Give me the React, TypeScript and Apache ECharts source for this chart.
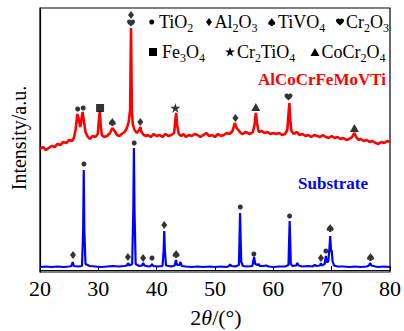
import React, { useEffect, useRef } from "react";
import * as echarts from "echarts";

// ---------- data (2θ in degrees, intensity in arbitrary units) ----------
const xTicks = [20, 30, 40, 50, 60, 70, 80];

const coatingPattern: [number, number][] = [
  [20.0, 121], [20.5, 123], [21.0, 120], [21.5, 122], [22.0, 124], [22.5, 123], [23.0, 126], [23.5, 125],
  [24.0, 128], [24.5, 127], [25.0, 130], [25.5, 129], [25.8, 132], [26.1, 140], [26.4, 156], [26.6, 152],
  [26.9, 143], [27.1, 150], [27.3, 158], [27.5, 150], [27.8, 138], [28.2, 133], [28.6, 131], [29.0, 134],
  [29.5, 133], [29.9, 136], [30.1, 150], [30.25, 159], [30.4, 145], [30.6, 135], [31.0, 133], [31.5, 134],
  [32.0, 137], [32.4, 142], [32.8, 139], [33.2, 135], [33.6, 134], [34.0, 136], [34.5, 138], [34.9, 142],
  [35.2, 148], [35.45, 160], [35.6, 242], [35.75, 160], [35.9, 146], [36.2, 140], [36.6, 137], [37.0, 140],
  [37.2, 143], [37.4, 138], [37.8, 135], [38.2, 134], [38.5, 135], [39.0, 133], [39.5, 136], [40.0, 134],
  [40.5, 135], [41.0, 133], [41.5, 136], [42.0, 134], [42.5, 135], [43.0, 137], [43.2, 150], [43.35, 157],
  [43.5, 145], [43.8, 136], [44.2, 134], [44.6, 136], [45.0, 133], [45.5, 135], [46.0, 134], [46.5, 136],
  [47.0, 135], [47.5, 133], [48.0, 135], [48.5, 137], [49.0, 134], [49.5, 135], [50.0, 133], [50.5, 136],
  [51.0, 134], [51.5, 135], [52.0, 137], [52.5, 136], [53.0, 139], [53.4, 147], [53.7, 142], [54.0, 140],
  [54.4, 137], [54.8, 136], [55.2, 138], [55.6, 137], [56.0, 136], [56.5, 138], [56.8, 146], [57.0, 157],
  [57.2, 147], [57.5, 138], [58.0, 139], [58.5, 137], [59.0, 138], [59.5, 136], [60.0, 137], [60.5, 136],
  [61.0, 137], [61.5, 135], [62.0, 136], [62.4, 140], [62.6, 156], [62.75, 167], [62.9, 150], [63.1, 139],
  [63.5, 136], [64.0, 138], [64.5, 135], [65.0, 136], [65.5, 134], [66.0, 135], [66.5, 133], [67.0, 135],
  [67.5, 134], [68.0, 133], [68.5, 135], [69.0, 133], [69.5, 132], [70.0, 134], [70.5, 132], [71.0, 133],
  [71.5, 131], [72.0, 132], [72.5, 130], [73.0, 131], [73.5, 133], [73.9, 137], [74.2, 133], [74.6, 130],
  [75.0, 131], [75.5, 129], [76.0, 130], [76.5, 128], [77.0, 129], [77.5, 127], [78.0, 126], [78.5, 128],
  [79.0, 127], [79.5, 129], [80.0, 128],
];

const substratePattern: [number, number][] = [
  [20.0, 3], [21.0, 3.5], [22.0, 3], [23.0, 3.5], [24.0, 3], [25.0, 3.5], [25.4, 4], [25.6, 8], [25.8, 4],
  [26.5, 3.5], [27.2, 4], [27.4, 40], [27.5, 100], [27.6, 40], [27.8, 6], [28.5, 4], [29.5, 3.5], [30.5, 3],
  [31.5, 3.5], [32.5, 4], [33.5, 3.5], [34.5, 4], [34.9, 4.5], [35.1, 7], [35.3, 4.5], [35.8, 6], [36.0, 60],
  [36.1, 122], [36.2, 60], [36.4, 6], [37.0, 4], [37.5, 4.5], [37.7, 7], [37.9, 4.5], [38.6, 3.5], [39.0, 4],
  [39.2, 6], [39.4, 4], [40.2, 3.5], [41.0, 4], [41.2, 20], [41.3, 39], [41.4, 20], [41.6, 4.5], [42.5, 3.5],
  [43.1, 4.5], [43.3, 10], [43.5, 5], [43.9, 5], [44.1, 8], [44.3, 4], [45.0, 3.5], [46.0, 3], [47.0, 3.5],
  [48.0, 3], [49.0, 3.5], [50.0, 3], [51.0, 3.5], [52.0, 3], [52.4, 4], [52.6, 5.5], [52.8, 4], [53.5, 3.5],
  [54.1, 5], [54.2, 30], [54.3, 57], [54.4, 30], [54.5, 8], [54.8, 4], [55.5, 3.5], [56.4, 4], [56.6, 10],
  [56.7, 13], [56.9, 6], [57.3, 5], [57.45, 6], [57.7, 4], [58.3, 4], [58.8, 4.5], [59.2, 3.5], [60.0, 3],
  [61.0, 3.5], [62.0, 3.5], [62.6, 5], [62.7, 28], [62.8, 49], [62.9, 28], [63.0, 6], [63.3, 4], [63.9, 4.5],
  [64.1, 7], [64.3, 4.5], [65.0, 3.5], [66.0, 4], [66.7, 3.5], [67.1, 5], [67.4, 4], [68.0, 4.5], [68.15, 7],
  [68.3, 4.5], [68.8, 6], [69.0, 14], [69.15, 8], [69.4, 8], [69.6, 20], [69.75, 34], [69.9, 18], [70.0, 20],
  [70.15, 9], [70.4, 4.5], [71.0, 3.5], [72.0, 3.5], [73.0, 3], [74.0, 3.5], [75.0, 3], [76.0, 3.5],
  [76.4, 4.5], [76.6, 7], [76.8, 4.5], [77.5, 3.5], [78.0, 3], [79.0, 3.5], [80.0, 3],
];

// phase markers [2θ, height of marker]
const tio2Marks: [number, number][] = [
  [26.46, 161], [27.4, 162],
  [27.53, 106], [36.15, 127], [39.2, 12], [54.34, 63], [56.66, 16], [62.78, 54], [69.0, 19],
];
const al2o3Marks: [number, number][] = [
  [35.6, 255], [37.2, 148], [53.5, 152],
  [25.66, 15], [35.08, 13], [37.68, 12], [41.3, 45], [68.16, 12],
];
const tivo4Marks: [number, number][] = [[32.4, 148], [43.34, 16], [69.75, 42], [76.66, 13]];
const cr2o3Marks: [number, number][] = [[35.6, 247], [62.6, 173]];
const fe3o4Marks: [number, number][] = [[30.3, 162]];
const cr2tio4Marks: [number, number][] = [[43.2, 162]];
const cocr2o4Marks: [number, number][] = [[57.0, 163], [73.9, 142]];

// ---------- symbol shapes ----------
const P_DIAMOND = "M5 0 L10 5 L5 10 L0 5 Z";
const P_SPADE =
  "M5 0 C6.5 2.5 10 4.2 10 6.6 C10 8.4 8 9.3 6.3 8.1 L7 10 L3 10 L3.7 8.1 C2 9.3 0 8.4 0 6.6 C0 4.2 3.5 2.5 5 0 Z";
const P_HEART =
  "M5 10 C3 8 0 5.8 0 3 C0 1.2 1.3 0 2.8 0 C4 0 4.7 0.8 5 1.8 C5.3 0.8 6 0 7.2 0 C8.7 0 10 1.2 10 3 C10 5.8 7 8 5 10 Z";
const P_SQUARE = "M0 0 L10 0 L10 10 L0 10 Z";
const P_STAR =
  "M5 0 L6.18 3.62 L10 3.62 L6.9 5.86 L8.09 9.5 L5 7.24 L1.91 9.5 L3.1 5.86 L0 3.62 L3.82 3.62 Z";
const P_TRIANGLE = "M5 0 L10 10 L0 10 Z";

const SHAPES: Record<string, string> = {
  xrdDiamond: P_DIAMOND,
  xrdSpade: P_SPADE,
  xrdHeart: P_HEART,
  xrdSquare: P_SQUARE,
  xrdStar: P_STAR,
  xrdTriangle: P_TRIANGLE,
};
let registered = false;
function registerShapes() {
  if (registered) return;
  registered = true;
  Object.keys(SHAPES).forEach((k) => {
    echarts.graphic.registerShape(k, echarts.graphic.extendPath(SHAPES[k], {}) as any);
  });
}

const SERIF = "Liberation Serif";

function sym(kind: string, cx: number, cy: number, w: number, h: number): any {
  if (kind === "circle") {
    return { type: "circle", shape: { cx, cy, r: w / 2 }, style: { fill: "#000" } };
  }
  return {
    type: kind,
    x: cx - w / 2,
    y: cy - h / 2,
    scaleX: w / 10,
    scaleY: h / 10,
    style: { fill: "#000" },
  };
}

function txt(text: string, x: number, y: number, opts: any = {}): any {
  const size = opts.size ?? 18;
  const align = opts.align ?? "left";
  return {
    type: "text",
    x,
    y,
    rotation: opts.rotation ?? 0,
    style: {
      text,
      fill: opts.fill ?? "#000",
      fontFamily: SERIF,
      fontSize: size,
      fontWeight: opts.weight ?? "normal",
      align,
      textAlign: align,
      verticalAlign: "middle",
      textVerticalAlign: "middle",
      rich: {
        s: { fontFamily: SERIF, fontSize: 12, fill: opts.fill ?? "#000", padding: [11, 0, 0, 0] },
        i: { fontFamily: SERIF, fontSize: size, fontStyle: "italic", fill: opts.fill ?? "#000" },
      },
    },
  };
}

function scatter(name: string, data: [number, number][], symbol: string, size: number[]): any {
  return {
    name,
    type: "scatter",
    data,
    symbol,
    symbolSize: size,
    itemStyle: { color: "#000" },
    z: 5,
    silent: true,
  };
}

export default function App() {
  const ref = useRef<HTMLDivElement>(null);
  useEffect(() => {
    if (!ref.current) return;
    registerShapes();
    const chart = echarts.init(ref.current, undefined, { renderer: "svg" });
    const r1 = 22;
    const r2 = 52;
    chart.setOption({
      animation: false,
      backgroundColor: "#fff",
      grid: {
        left: 40,
        top: 8,
        right: 11,
        bottom: 59,
        show: true,
        borderColor: "#000",
        borderWidth: 1.2,
      },
      xAxis: {
        type: "value",
        min: 20,
        max: 80,
        interval: 10,
        axisLine: { show: true, lineStyle: { color: "#000", width: 1.2 } },
        axisTick: { show: true, inside: true, length: 4, lineStyle: { color: "#000", width: 1 } },
        axisLabel: {
          fontFamily: SERIF,
          fontSize: 22,
          color: "#000",
          margin: 5,
          formatter: (v: number) => (xTicks.includes(v) ? String(v) : ""),
        },
        splitLine: { show: false },
      },
      yAxis: {
        type: "value",
        min: -2,
        max: 262,
        axisLine: { show: true, lineStyle: { color: "#000", width: 1.2 } },
        axisTick: { show: false },
        axisLabel: { show: false },
        splitLine: { show: false },
      },
      series: [
        {
          name: "AlCoCrFeMoVTi",
          type: "line",
          data: coatingPattern,
          showSymbol: false,
          lineStyle: { color: "#ff0000", width: 2.6 },
          z: 2,
          silent: true,
        },
        {
          name: "Substrate",
          type: "line",
          data: substratePattern,
          showSymbol: false,
          lineStyle: { color: "#0000ff", width: 2.2 },
          z: 3,
          silent: true,
        },
        scatter("TiO2", tio2Marks, "circle", [5, 5]),
        scatter("Al2O3", al2o3Marks, "path://" + P_DIAMOND, [6, 8]),
        scatter("TiVO4", tivo4Marks, "path://" + P_SPADE, [7, 8]),
        scatter("Cr2O3", cr2o3Marks, "path://" + P_HEART, [8, 7]),
        scatter("Fe3O4", fe3o4Marks, "path://" + P_SQUARE, [8, 8]),
        scatter("Cr2TiO4", cr2tio4Marks, "path://" + P_STAR, [10, 10]),
        scatter("CoCr2O4", cocr2o4Marks, "path://" + P_TRIANGLE, [9, 8]),
      ],
      graphic: [
        sym("circle", 151.7, r1, 5, 5),
        txt("TiO{s|2}", 159, r1),
        sym("xrdDiamond", 209, r1, 6, 8),
        txt("Al{s|2}O{s|3}", 214.5, r1),
        sym("xrdSpade", 271.7, r1, 7, 8),
        txt("TiVO{s|4}", 278, r1),
        sym("xrdHeart", 340, r1, 8, 7),
        txt("Cr{s|2}O{s|3}", 346, r1),
        sym("xrdSquare", 153, r2, 8, 8),
        txt("Fe{s|3}O{s|4}", 162, r2),
        sym("xrdStar", 230, r2, 10, 10),
        txt("Cr{s|2}TiO{s|4}", 237, r2),
        sym("xrdTriangle", 315, r2, 9, 8),
        txt("CoCr{s|2}O{s|4}", 321.5, r2),
        txt("AlCoCrFeMoVTi", 386, 79, { fill: "#ff0000", weight: "bold", size: 17, align: "right" }),
        txt("Substrate", 333, 183, { fill: "#0000ff", weight: "bold", size: 17, align: "center" }),
        txt("2{i|θ}/(°)", 216, 317, { size: 22, align: "center" }),
        txt("Intensity/a.u.", 19, 138, { size: 20, align: "center", rotation: Math.PI / 2 }),
      ],
    });
    return () => chart.dispose();
  }, []);
  return (
    <div
      ref={ref}
      style={{ position: "fixed", left: 0, top: 0, width: 404, height: 331, background: "#fff" }}
    />
  );
}
